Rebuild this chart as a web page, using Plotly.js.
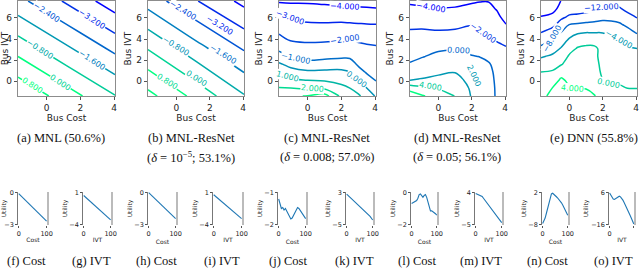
<!DOCTYPE html>
<html><head><meta charset="utf-8">
<script src="https://cdn.plot.ly/plotly-3.0.1.min.js"></script>
<style>html,body{margin:0;padding:0;background:#fff}#chart{width:640px;height:268px}</style>
</head><body><div id="chart"></div>
<script>
// ---------- contour panels (Bus Cost vs Bus IVT) ----------
const busCostAB = [-1.7, 1.2, 4.05];
const busIvtAB = [-1.4, 3.1, 7.6];
const zMNL = [
  [1.53, 0.37, -0.77],
  [-0.31, -1.47, -2.61],
  [-2.16, -3.32, -4.46]
];
const zResNet1 = [
  [1.85, 0.54, -0.74],
  [-0.04, -1.31, -2.48],
  [-1.93, -3.16, -4.22]
];
const busCostCD = [-1.7, -1, 0, 1, 2, 2.5, 3, 3.5, 4.05];
const busIvtGrid = [-1.4, -0.65, 0.1, 0.85, 1.6, 2.35, 3.1, 3.85, 4.6, 5.35, 6.1, 6.85, 7.6];
const zResNet2 = [
  [2.7, 2.88, 3.05, 3.43, 1.76, 1.48, 1.15, 0.6, -0.1],
  [2.04, 2.0, 1.88, 1.81, 1.24, 1.0, 0.58, 0.0, -0.6],
  [1.39, 1.12, 1.0, 0.91, 0.72, 0.52, 0.0, -0.6, -1.04],
  [0.76, 0.41, 0.21, 0.23, 0.21, 0.03, -0.63, -1.08, -1.25],
  [0.16, -0.3, -0.69, -0.59, -0.47, -0.58, -1.13, -1.33, -1.46],
  [-0.58, -1.03, -1.28, -1.23, -1.15, -1.15, -1.44, -1.58, -1.67],
  [-1.21, -1.53, -1.69, -1.66, -1.59, -1.59, -1.75, -1.83, -1.89],
  [-1.65, -2.03, -2.1, -2.08, -2.03, -2.03, -2.08, -2.14, -2.18],
  [-2.08, -2.4, -2.49, -2.49, -2.44, -2.46, -2.5, -2.54, -2.58],
  [-2.49, -2.78, -2.87, -2.89, -2.86, -2.89, -2.92, -2.95, -2.97],
  [-2.89, -3.19, -3.29, -3.32, -3.32, -3.35, -3.39, -3.42, -3.45],
  [-3.48, -3.66, -3.71, -3.76, -3.81, -3.84, -3.87, -3.9, -3.94],
  [-4.13, -4.13, -4.14, -4.2, -4.29, -4.32, -4.35, -4.39, -4.42]
];
const zResNet3 = [
  [7.2, 6.24, 5.08, 3.95, 1.85, 1.3, 0.7, -0.2, -0.6],
  [5.19, 4.47, 3.83, 3.32, 1.7, 1.1, 0.6, -0.2, -0.7],
  [2.0, 2.17, 2.58, 2.64, 1.4, 0.9, 0.5, -0.25, -0.85],
  [1.06, 1.32, 1.67, 1.95, 0.9, 0.6, 0.35, -0.3, -1.05],
  [0.13, 0.59, 1.04, 1.26, 0.5, 0.35, 0.15, -0.45, -1.3],
  [-0.4, -0.11, 0.42, 0.56, 0.08, -0.04, -0.33, -0.9, -1.6],
  [-0.86, -0.64, -0.26, -0.15, -0.43, -0.57, -0.94, -1.5, -1.85],
  [-1.32, -1.18, -1.03, -0.92, -0.96, -1.11, -1.55, -2.07, -2.37],
  [-1.78, -1.71, -1.79, -1.69, -1.5, -1.64, -2.13, -2.58, -3.16],
  [-2.35, -2.33, -2.51, -2.43, -2.05, -2.21, -2.61, -3.08, -3.95],
  [-2.99, -3.05, -3.21, -3.14, -2.78, -2.83, -3.1, -3.59, -4.6],
  [-3.64, -3.76, -3.91, -3.86, -3.51, -3.46, -3.58, -4.1, -5.2],
  [-4.29, -4.4, -4.6, -4.48, -4.24, -4.08, -4.06, -4.6, -5.7]
];
const busCostE = [-1.7, -1, -0.5, 0, 0.5, 1, 1.5, 2, 2.5, 3, 3.5, 4.05];
const zDNN = [
  [3.0, 5.0, 5.6, 5.5, 5.2, 5.0, 4.1, 3.0, 2.2, 1.8, 1.5, 1.3],
  [2.5, 4.1, 5.0, 4.3, 3.9, 3.87, 3.4, 1.5, 0.9, 0.4, -0.05, -0.05],
  [1.8, 2.16, 4.6, 3.25, 3.18, 3.19, 2.8, 0.05, -0.5, -0.51, -0.69, -0.84],
  [0.1, 0.44, 2.6, 2.31, 2.46, 2.52, 2.2, -0.9, -1.1, -1.2, -1.43, -1.63],
  [-2.07, -1.44, -0.24, 1.38, 1.73, 1.84, 1.6, -1.3, -1.7, -1.89, -2.17, -2.42],
  [-4.36, -3.36, -2.0, 0.44, 1.01, 1.17, 1.0, -1.5, -2.3, -2.58, -2.91, -3.21],
  [-7.1, -5.43, -3.76, -1.14, 0.29, 0.49, 0.5, -0.8, -2.9, -3.26, -3.65, -3.98],
  [-9.6, -7.57, -5.8, -3.29, -1.64, -0.84, -1.0, -2.5, -3.5, -3.95, -4.97, -6.14],
  [-11.95, -10.29, -7.86, -5.54, -4.4, -3.98, -4.02, -4.05, -4.48, -5.7, -6.79, -8.27],
  [-13.94, -12.86, -10.43, -7.85, -7.4, -7.0, -6.9, -6.6, -6.9, -7.5, -8.71, -10.27],
  [-15.87, -15.0, -12.8, -11.5, -11.2, -10.67, -9.8, -9.2, -9.2, -9.5, -10.86, -12.27],
  [-17.5, -17.1, -14.8, -13.5, -13.5, -13.2, -12.9, -11.7, -11.4, -11.6, -13.0, -14.3],
  [-18.5, -18.5, -15.9, -15.0, -15.0, -14.5, -14.5, -14.2, -13.6, -13.6, -14.5, -15.8]
];
const contourTicksX = [0, 2, 4];
const contourTicksY = [0, 2, 4, 6];

// contour level labels: [level, bus cost, bus IVT, angle]
const labelsA = [[-2.4, 0.0, 6.55, 33], [-3.2, 2.7, 5.85, 33], [-0.8, -0.4, 3.0, 33], [-1.6, 2.7, 1.95, 33], [0.0, 0.8, -0.1, 33], [0.8, -0.85, -0.4, 33]];
const labelsB = [[-2.4, 0.4, 6.7, 32], [-3.2, 2.6, 5.3, 32], [-0.8, 0.0, 3.3, 32], [-1.6, 2.8, 2.5, 32], [0.0, 1.2, 0.24, 32], [0.8, -0.55, 0.0, 32]];
const labelsC = [[-4, 2.2, 7.1, 3], [-3, -1.05, 6.0, 20], [-2, 2.2, 3.95, -8], [-1, -0.7, 2.15, 12], [0, 2.9, 0.15, 35], [1, -1.2, 0.45, 15], [2, 0.3, -0.65, 5]];
const labelsD = [[-4, -0.45, 6.95, 10], [-2, 2.7, 4.5, 35], [0, 1.2, 2.92, 3], [2, 2.1, 0.5, 65], [4, -0.45, -0.5, 10]];
const labelsE = [[-12, 1.9, 6.95, -3], [-8, -1.0, 4.0, -60], [-4, 2.95, 3.95, 30], [0, 2.35, -0.25, 12], [4, 0.2, -0.72, 5]];

// ---------- utility curves ----------
const xLine = [0, 100];
const xFine = [0,5,10,15,20,25,30,35,40,45,50,55,60,65,70,75,80,85,90,95,100];
const xMid = [0,10,20,30,40,50,60,70,80,90,100];
const uF = [-0.09, -2.7];
const uG = [0.55, -3.3];
const uH = [0.0, -2.45];
const uI = [0.67, -3.1];
const uJ = [-1.2,-1.38,-1.5,-1.47,-1.55,-1.5,-1.58,-1.68,-1.78,-1.83,-1.8,-1.72,-1.62,-1.53,-1.47,-1.5,-1.57,-1.64,-1.7,-1.76,-1.82];
const uK = [2.6,2.0,1.3,0.7,0.2,-0.4,-1.0,-1.6,-2.3,-3.0,-3.9];
const uL = [-0.68,-0.64,-0.6,-0.56,-0.5,-0.35,-0.12,-0.08,-0.2,-0.3,-0.18,-0.12,-0.3,-0.65,-0.95,-1.15,-1.15,-1.2,-1.25,-1.33,-1.42];
const uM = [3.75,3.6,3.45,3.35,3.2,2.9,2.4,1.9,1.45,1.0,0.6,0.2,-0.3,-0.8,-1.3,-1.8,-2.35,-2.9,-3.45,-4.0,-4.5];
const uN = [-7.7,-7.0,-6.0,-4.5,-2.8,-1.0,0.6,1.6,1.8,1.5,1.1,0.7,0.3,-0.1,-0.6,-1.2,-1.9,-2.7,-3.5,-4.3,-5.1];
const uO = [5.8,4.5,2.8,1.6,1.3,1.8,2.7,3.3,3.5,3.1,2.2,0.8,-0.8,-2.4,-4.2,-6.0,-7.8,-9.8,-11.8,-13.8,-15.8];
const utilTicks = [[-3,0],[-4,1],[-3,0],[-4,1],[-2,-1],[-5,3],[-2,0],[-5,4],[-8,2],[-16,6]];
const utilXLabels = ['Cost','IVT','Cost','IVT','Cost','IVT','Cost','IVT','Cost','IVT'];

const topCaptions = ['(a) MNL (50.6%)','(b) MNL-ResNet','(c) MNL-ResNet','(d) MNL-ResNet','(e) DNN (55.8%)'];
const topCaptions2 = ['', '(<i>δ</i> = 10<sup>−5</sup>; 53.1%)', '(<i>δ</i> = 0.008; 57.0%)', '(<i>δ</i> = 0.05; 56.1%)', ''];
const bottomCaptions = ['(f) Cost','(g) IVT','(h) Cost','(i) IVT','(j) Cost','(k) IVT','(l) Cost','(m) IVT','(n) Cost','(o) IVT'];

// ---------- layout geometry ----------
const W = 640, H = 268;
const topX = [[18,115],[148,244],[279,376],[410,506],[541,637]];
const topY = [1, 96];
const botX = [[18,48],[83,112],[148,177],[213,243],[278,307],[346,374],[411,438],[475,503],[542,569],[609,635]];
const botY = [192, 225];
const topCapX = [61, 191, 327, 457, 594];
const botCapX = [26, 91, 156, 222, 288, 354, 417, 481, 547, 613];

const winter = [[0,'rgb(0,0,255)'],[1,'rgb(0,255,128)']];
function winterColor(t) {
  return 'rgb(0,' + Math.round(255 * t) + ',' + Math.round(255 - 127 * t) + ')';
}
const contourSpecs = [
  {x: busCostAB, y: busIvtAB, z: zMNL, start: -4.0, end: 0.8, size: 0.8, labels: labelsA},
  {x: busCostAB, y: busIvtAB, z: zResNet1, start: -4.0, end: 1.6, size: 0.8, labels: labelsB},
  {x: busCostCD, y: busIvtGrid, z: zResNet2, start: -4, end: 3, size: 1, labels: labelsC},
  {x: busCostCD, y: busIvtGrid, z: zResNet3, start: -4, end: 6, size: 2, labels: labelsD},
  {x: busCostE, y: busIvtGrid, z: zDNN, start: -16, end: 4, size: 4, labels: labelsE}
];
const utilSeries = [[xLine,uF],[xLine,uG],[xLine,uH],[xLine,uI],[xFine,uJ],[xMid,uK],[xFine,uL],[xFine,uM],[xFine,uN],[xFine,uO]];

const traces = [];
const layout = {
  width: W, height: H, margin: {l:0,r:0,t:0,b:0},
  paper_bgcolor: '#fff', plot_bgcolor: '#fff', showlegend: false,
  font: {family: 'DejaVu Sans', color: '#222'},
  annotations: [], shapes: []
};
const frameColor = '#8c8c8c';

contourSpecs.forEach((s, i) => {
  const n = i + 1;
  const xa = 'x' + (n === 1 ? '' : n), ya = 'y' + (n === 1 ? '' : n);
  traces.push({
    type: 'contour', x: s.x, y: s.y, z: s.z, xaxis: xa, yaxis: ya,
    autocontour: false,
    contours: {start: s.start, end: s.end, size: s.size, coloring: 'lines', showlabels: false},
    line: {width: 1.5, smoothing: 1},
    colorscale: winter, zauto: false, zmin: s.start, zmax: s.end,
    showscale: false, hoverinfo: 'skip'
  });
  s.labels.forEach(l => {
    const t = (l[0] - s.start) / (s.end - s.start);
    layout.annotations.push({
      text: l[0].toFixed(3).replace('-', '−'), x: l[1], y: l[2], xref: xa, yref: ya,
      showarrow: false, textangle: l[3], bgcolor: '#fff', borderpad: 0,
      font: {family: 'DejaVu Sans', size: 8, color: winterColor(t)},
      xanchor: 'center', yanchor: 'middle'
    });
  });
  layout['xaxis' + (n === 1 ? '' : n)] = {
    domain: [topX[i][0]/W, topX[i][1]/W], anchor: ya,
    range: [s.x[0], s.x[s.x.length-1]], tickvals: contourTicksX, ticktext: contourTicksX.map(String),
    ticks: 'outside', ticklen: 3, tickcolor: '#555', tickfont: {size: 9, color: '#222'},
    showline: true, mirror: true, linecolor: frameColor, linewidth: 1.2, showgrid: false, zeroline: false,
    title: {text: 'Bus Cost', font: {size: 9, color: '#222'}, standoff: 2}
  };
  layout['yaxis' + (n === 1 ? '' : n)] = {
    domain: [1 - topY[1]/H, 1 - topY[0]/H], anchor: xa,
    range: [s.y[0], s.y[s.y.length-1]], tickvals: contourTicksY, ticktext: contourTicksY.map(String),
    ticks: 'outside', ticklen: 3, tickcolor: '#555', tickfont: {size: 9, color: '#222'},
    showline: true, mirror: true, linecolor: frameColor, linewidth: 1.2, showgrid: false, zeroline: false,
    title: {text: 'Bus IVT', font: {size: 9, color: '#222'}, standoff: 3}
  };
});

utilSeries.forEach((s, j) => {
  const n = j + 6;
  const xa = 'x' + n, ya = 'y' + n;
  const t = utilTicks[j];
  const span = t[1] - t[0];
  traces.push({type: 'scatter', mode: 'lines', x: s[0], y: s[1], xaxis: xa, yaxis: ya,
    line: {color: '#1f77b4', width: 1.1}, hoverinfo: 'skip'});
  layout['xaxis' + n] = {
    domain: [botX[j][0]/W, botX[j][1]/W], anchor: ya, range: [-2.5, 105],
    tickvals: [0, 100], ticktext: ['0', '100'], ticks: 'outside', ticklen: 2, tickcolor: '#555',
    tickfont: {size: 6.5, color: '#222'}, showline: false, showgrid: false, zeroline: false,
    title: {text: utilXLabels[j], font: {size: 6, color: '#222'}, standoff: 1}
  };
  layout['yaxis' + n] = {
    domain: [1 - botY[1]/H, 1 - botY[0]/H], anchor: xa, range: [t[0] - 0.02*span, t[1] + 0.02*span],
    tickvals: t, ticktext: t.map(v => v < 0 ? '−' + Math.abs(v) : String(v)), ticks: 'outside', ticklen: 2, tickcolor: '#555',
    tickfont: {size: 6.5, color: '#222'}, showline: true, mirror: false, linecolor: '#555', linewidth: 0.8,
    showgrid: false, zeroline: false,
    title: {text: 'Utility', font: {size: 6, color: '#222'}, standoff: 1}
  };
  layout.shapes.push({type: 'line', xref: 'paper', yref: 'paper',
    x0: botX[j][1]/W, x1: botX[j][1]/W, y0: 1 - botY[1]/H, y1: 1 - botY[0]/H,
    line: {color: '#aaaaaa', width: 1.6}});
});

const capFont = {family: 'Liberation Serif', size: 12.5, color: '#111'};
topCaptions.forEach((c, i) => {
  layout.annotations.push({text: c, x: topCapX[i]/W, y: 1 - 138/H, xref: 'paper', yref: 'paper',
    xanchor: 'center', yanchor: 'middle', showarrow: false, font: capFont});
  if (topCaptions2[i]) layout.annotations.push({text: topCaptions2[i], x: topCapX[i]/W, y: 1 - 157/H,
    xref: 'paper', yref: 'paper', xanchor: 'center', yanchor: 'middle', showarrow: false, font: capFont});
});
bottomCaptions.forEach((c, i) => {
  layout.annotations.push({text: c, x: botCapX[i]/W, y: 1 - 261/H, xref: 'paper', yref: 'paper',
    xanchor: 'center', yanchor: 'middle', showarrow: false, font: capFont});
});

Plotly.newPlot('chart', traces, layout, {staticPlot: true, displayModeBar: false});
</script></body></html>
